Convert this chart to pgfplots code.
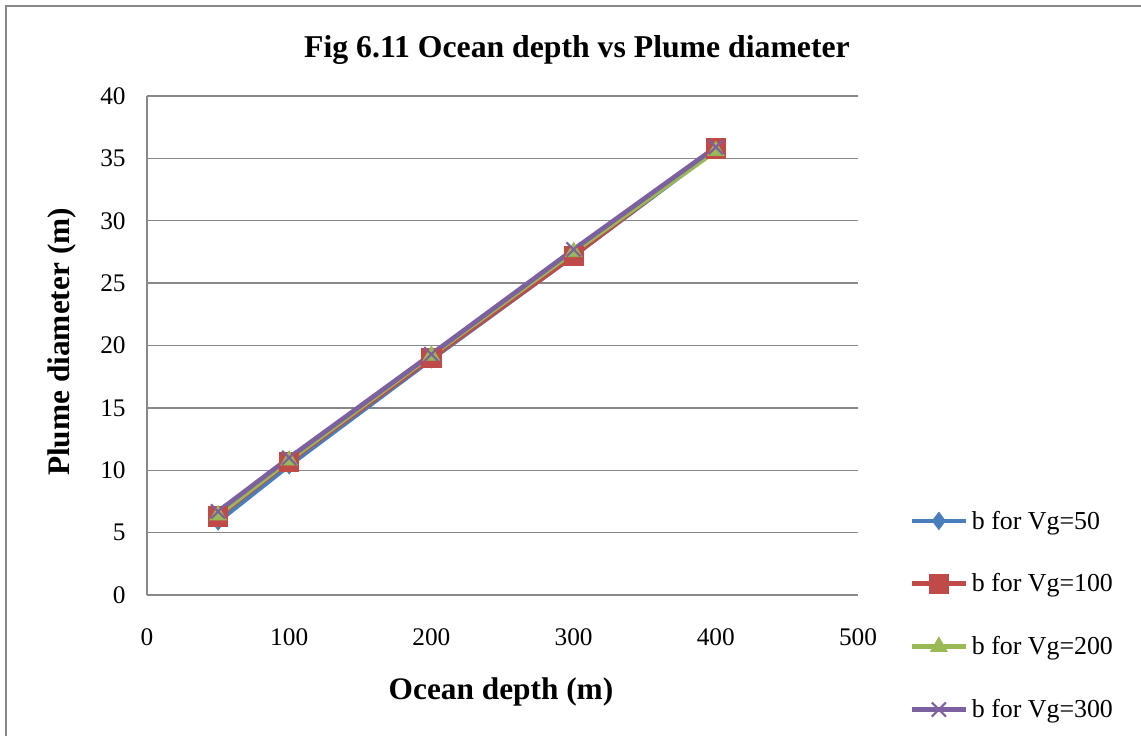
\documentclass[border=0pt]{standalone}
\usepackage{pgfplots}
\pgfplotsset{compat=1.18}
\usepackage{fontspec}
\setmainfont{Liberation Serif}
\definecolor{cblue}{HTML}{4A7EBB}
\definecolor{cred}{HTML}{BE4B48}
\definecolor{cgreen}{HTML}{98B954}
\definecolor{cpurple}{HTML}{7D60A0}
\definecolor{gridgray}{HTML}{888888}
\begin{document}
\begin{tikzpicture}
\path[use as bounding box] (0,0) rectangle (855.75pt,552pt);
\draw[gridgray, line width=1pt] (4.5pt,0) -- (4.5pt,547.5pt) -- (856pt,547.5pt);
\begin{axis}[
  at={(110.25pt,105.75pt)}, anchor=south west,
  scale only axis, width=533.25pt, height=374.25pt,
  xmin=0, xmax=500, ymin=0, ymax=40,
  xtick={0,100,...,500}, ytick={0,5,...,40},
  axis x line=bottom, axis y line=left,
  axis line style={gridgray, line width=1pt, -},
  major tick length=0pt,
  ymajorgrids, grid style={gridgray, line width=1pt},
  tick label style={font=\fontsize{19}{22}\selectfont},
  xticklabel style={yshift=-21.5pt},
  yticklabel style={xshift=-12.5pt},
  /pgf/number format/assume math mode=true,
  clip=false,
  legend style={at={(1.066,0.18)}, anchor=north west, draw=none, fill=none,
    font=\fontsize{19.4}{22}\selectfont, row sep=28pt,
    nodes={inner xsep=2.5pt},
    /tikz/every even column/.append style={column sep=0pt}},
  legend cell align=left,
  legend image code/.code={\draw[#1,mark repeat=2,mark phase=2] plot coordinates {(0pt,0pt)(20.5pt,0pt)(41pt,0pt)};},
  every axis plot/.append style={line width=3.5pt},
]
\addplot[cblue, mark=diamond*, mark size=6.6pt, mark options={line width=0.5pt}] coordinates {(50,5.9)(100,10.4)(200,18.9)(300,27.2)(400,35.7)};
\addlegendentry{b for Vg=50}
\addplot[cred, mark=square*, mark size=7.2pt, mark options={line width=0.5pt}] coordinates {(50,6.3)(100,10.7)(200,19.0)(300,27.2)(400,35.8)};
\addlegendentry{b for Vg=100}
\addplot[cgreen, mark=triangle*, mark size=7.2pt, mark options={line width=0.5pt}] coordinates {(50,6.4)(100,10.8)(200,19.2)(300,27.5)(400,35.6)};
\addlegendentry{b for Vg=200}
\addplot[cpurple, mark=x, mark size=7.5pt, mark options={line width=1.6pt}] coordinates {(50,6.7)(100,11.0)(200,19.3)(300,27.7)(400,35.9)};
\addlegendentry{b for Vg=300}
\end{axis}
\node[font=\fontsize{23.8}{28}\selectfont\bfseries] at (432.75pt,514.5pt) {Fig 6.11 Ocean depth vs Plume diameter};
\node[font=\fontsize{23.5}{28}\selectfont\bfseries] at (375.75pt,33pt) {Ocean depth (m)};
\node[font=\fontsize{23.5}{28}\selectfont\bfseries, rotate=90] at (46.5pt,295.5pt) {Plume diameter (m)};
\end{tikzpicture}
\end{document}
